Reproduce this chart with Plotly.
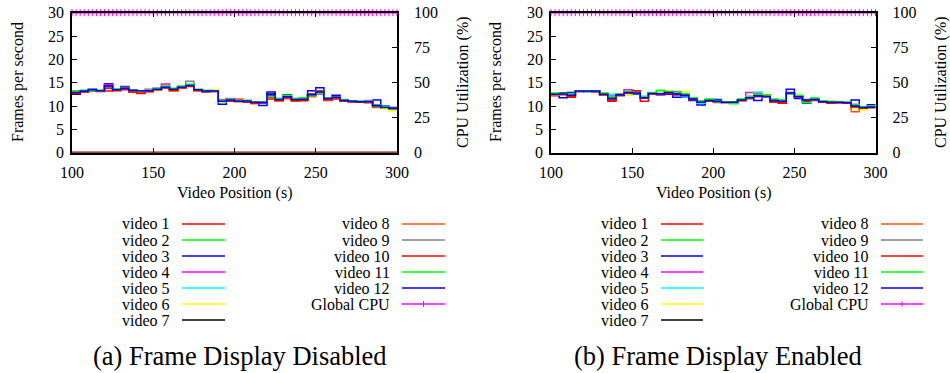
import plotly.graph_objects as go

# ---------------- data ----------------
X = [100, 105, 110, 115, 120, 125, 130, 135, 140, 145, 150, 155, 160, 165, 170, 175, 180, 185, 190, 195,
     200, 205, 210, 215, 220, 225, 230, 235, 240, 245, 250, 255, 260, 265, 270, 275, 280, 285, 290, 295, 300]

NAMES = ["video 1", "video 2", "video 3", "video 4", "video 5", "video 6", "video 7",
         "video 8", "video 9", "video 10", "video 11", "video 12"]

# (a) Frame Display Disabled - frames per second
A_V1 = [12.6,13.0,13.2,13.1,13.2,13.4,13.5,13.0,12.9,13.1,13.5,13.8,13.3,13.9,14.2,13.3,13.1,13.2,11.2,11.0,11.2,10.8,10.6,10.9,11.5,11.2,11.6,11.0,11.2,12.5,12.6,11.2,11.5,11.0,10.9,10.8,10.7,9.8,9.7,9.3,9.3]
A_V2 = [13.1,13.3,13.3,13.2,13.9,13.6,13.7,13.4,13.1,13.4,13.7,14.2,13.5,14.1,14.6,13.5,13.3,13.4,10.9,11.5,10.9,11.2,10.9,10.7,12.0,11.4,12.2,11.5,11.7,12.5,13.0,11.5,11.7,11.2,11.1,10.9,10.8,9.9,9.9,9.2,9.2]
A_V3 = [12.8,13.3,13.6,13.4,14.8,13.5,14.2,13.4,13.3,13.2,13.5,13.9,13.6,14.2,14.3,13.5,13.1,13.2,10.4,11.5,11.2,10.9,10.8,10.1,13.0,11.5,12.4,11.4,11.4,13.3,13.9,11.5,12.3,11.3,11.0,10.9,11.0,11.3,10.0,9.7,9.7]
A_V4 = [13.0,13.2,13.3,13.3,14.6,13.4,13.9,13.2,13.3,13.6,13.8,14.7,13.5,14.0,14.4,13.4,13.2,13.1,11.1,11.2,10.9,11.0,10.7,10.7,12.2,11.3,11.9,11.4,11.3,12.2,12.6,11.7,11.8,11.1,10.9,10.9,10.9,10.1,9.6,9.5,9.5]
A_V5 = [13.2,13.2,13.4,13.3,14.1,13.5,13.7,13.3,13.2,13.3,13.6,14.1,13.6,14.1,14.6,13.4,13.2,13.2,11.0,11.3,11.0,11.1,10.8,10.8,12.4,11.5,12.0,11.3,11.4,12.3,12.7,11.6,11.8,11.2,11.0,10.9,10.8,10.0,9.6,9.3,9.3]
A_V6 = [13.1,13.3,13.3,13.4,14.0,13.5,13.6,13.3,13.2,13.4,13.7,14.0,13.7,14.2,14.5,13.6,13.3,13.5,10.9,11.1,10.9,11.1,10.8,10.8,12.1,11.2,11.9,11.2,11.3,12.2,12.9,11.6,11.7,11.1,10.9,10.8,10.8,9.7,9.4,9.0,9.0]
A_V7 = [12.5,13.1,13.3,13.2,14.3,13.6,13.8,13.3,13.3,13.3,13.5,13.9,13.5,13.9,14.3,13.4,13.1,13.3,11.0,11.2,11.0,11.1,10.8,10.9,12.6,11.4,12.1,11.4,11.5,12.4,13.3,11.6,11.9,11.3,11.0,10.9,10.9,10.2,9.8,9.6,9.6]
A_V8 = [12.9,13.1,13.2,13.2,13.9,13.4,13.6,13.1,12.8,13.0,13.4,13.8,13.2,13.8,14.3,13.3,13.1,13.2,11.4,11.3,11.5,10.9,10.5,10.7,12.0,11.1,11.6,11.1,11.2,12.0,13.2,11.3,11.6,11.0,10.9,10.8,10.8,9.7,9.8,9.3,9.3]
A_V9 = [13.0,13.3,13.4,13.3,14.2,13.5,14.0,13.5,13.3,13.4,13.6,14.2,13.7,14.1,15.3,13.5,13.3,13.3,11.3,11.6,11.1,11.2,10.9,10.8,12.3,11.6,12.2,11.6,11.8,12.4,12.9,11.8,12.0,11.4,11.1,11.0,11.2,9.8,9.9,9.6,9.6]
A_V10 = [12.7,13.1,13.2,13.3,13.8,13.3,13.6,13.0,12.7,13.2,13.6,13.9,13.4,13.9,14.3,13.4,13.1,13.1,11.1,11.0,11.1,10.9,10.6,10.8,12.0,11.2,11.8,11.2,11.2,12.6,12.9,11.4,11.7,11.1,10.9,10.8,10.8,10.0,9.8,9.4,9.4]
A_V11 = [13.3,13.4,13.3,13.3,14.2,13.7,13.8,13.5,13.2,13.4,13.8,14.3,13.8,14.3,14.6,13.6,13.4,13.3,11.2,11.4,11.1,11.2,10.9,10.8,12.1,11.6,12.3,11.6,11.8,12.2,12.8,11.7,11.9,11.3,11.1,11.0,10.9,10.3,9.9,9.4,9.4]
A_V12 = [12.9,13.2,13.5,13.3,14.3,13.5,13.8,13.4,13.3,13.3,13.6,14.0,13.6,14.0,14.4,13.5,13.2,13.2,11.0,11.3,11.0,11.1,10.8,10.7,12.4,11.4,12.0,11.4,11.4,12.4,13.0,11.6,11.9,11.2,11.0,10.9,10.9,10.1,9.7,9.5,9.5]

# (b) Frame Display Enabled - frames per second
B_V1 = [12.2,12.4,11.9,13.1,13.2,13.1,12.3,11.0,12.2,12.7,13.1,11.0,12.6,12.5,12.8,12.4,12.5,11.3,11.0,11.1,10.9,10.8,10.7,11.2,11.6,12.8,12.2,10.8,10.6,12.6,12.2,11.0,11.2,10.8,10.6,10.7,10.6,9.6,9.4,9.7,9.7]
B_V2 = [12.7,12.8,12.5,13.3,13.3,13.3,12.7,11.8,12.5,13.0,12.9,12.0,12.8,13.3,13.1,12.8,12.5,11.7,11.0,11.4,11.1,10.9,10.6,11.4,12.0,12.4,12.3,11.4,11.2,12.9,12.2,10.8,11.6,11.0,10.9,10.8,10.8,10.1,9.8,9.9,9.9]
B_V3 = [12.6,11.8,12.9,13.2,13.2,13.2,12.3,12.1,12.2,12.9,12.6,11.8,12.6,12.4,12.5,11.9,12.0,11.2,10.2,11.3,11.4,10.8,10.8,11.2,11.6,11.2,12.3,11.3,11.1,13.6,11.6,10.6,11.5,11.0,10.8,10.8,10.7,11.3,9.8,10.3,10.3]
B_V4 = [12.4,12.6,12.3,13.1,13.2,13.1,12.5,11.4,12.6,13.5,12.9,11.9,12.8,12.4,13.0,12.5,12.3,11.5,10.9,11.2,11.0,10.8,10.8,11.3,12.9,12.0,11.9,11.1,11.0,12.5,12.0,11.3,11.4,10.8,10.6,10.8,10.7,9.9,9.6,9.8,9.8]
B_V5 = [12.5,12.6,12.4,13.2,13.1,13.2,12.6,12.5,12.3,12.8,12.7,11.8,12.7,12.6,12.8,12.6,12.2,11.6,10.6,11.1,10.7,10.8,10.9,11.3,11.8,13.0,12.0,11.2,11.0,12.8,12.1,11.2,11.3,10.9,10.8,10.8,10.7,9.9,9.7,9.9,9.9]
B_V6 = [12.3,12.7,12.2,13.3,13.3,13.2,12.4,11.6,12.2,12.3,12.8,11.9,12.6,12.8,13.2,12.7,13.1,11.6,11.0,11.0,10.9,10.8,10.8,11.2,11.7,12.1,12.0,11.2,11.1,12.7,12.0,11.2,11.3,10.9,10.8,10.8,10.7,9.5,9.2,9.6,9.6]
B_V7 = [12.5,12.8,12.3,13.2,13.1,13.1,12.5,11.5,12.4,12.8,12.7,11.9,12.7,12.6,12.9,12.6,12.3,11.5,10.9,11.2,11.0,10.8,10.8,11.3,11.9,12.1,12.1,11.2,11.0,12.8,12.0,11.3,11.4,10.9,10.8,10.8,10.7,10.0,9.7,9.8,9.8]
B_V8 = [12.4,12.5,12.2,13.1,13.2,13.2,12.4,11.3,12.3,12.8,12.9,11.7,12.7,12.5,12.8,12.9,12.4,11.4,11.1,11.0,10.9,10.8,10.7,11.2,11.7,12.3,12.1,11.0,10.9,12.7,11.9,11.1,11.4,10.8,10.7,10.8,10.6,8.8,9.5,9.7,9.7]
B_V9 = [12.6,12.7,12.4,13.3,13.3,13.3,12.6,11.7,12.5,12.9,12.8,11.9,12.8,12.7,13.0,13.1,12.4,11.6,10.9,11.3,11.1,10.9,10.9,11.4,11.9,12.2,12.1,11.3,11.1,12.9,12.1,11.4,11.5,11.0,10.9,10.9,10.8,10.4,9.8,9.9,9.9]
B_V10 = [12.4,12.5,12.1,13.2,13.2,13.1,12.4,11.2,12.3,12.8,13.3,11.7,12.6,12.5,12.7,12.4,12.4,11.4,10.9,11.1,10.9,10.7,10.7,11.2,11.8,12.5,12.2,10.9,10.7,12.8,12.1,11.0,11.3,10.8,10.6,10.7,10.6,9.8,9.5,9.7,9.7]
B_V11 = [12.8,12.7,12.6,13.3,13.3,13.3,12.8,12.0,12.6,13.1,12.9,12.1,12.9,13.4,13.1,12.9,12.6,11.8,11.1,11.5,11.2,10.9,10.5,11.5,12.1,12.5,12.4,11.5,11.3,12.6,12.3,10.7,11.7,11.1,11.0,10.9,10.8,10.2,9.9,10.0,10.0]
B_V12 = [12.5,12.6,12.3,13.2,13.2,13.2,12.5,11.6,12.4,12.9,12.8,11.8,12.7,12.6,12.9,12.6,12.3,11.5,10.8,11.2,11.0,10.8,10.8,11.3,11.8,12.2,12.0,11.2,11.0,12.8,12.0,11.3,11.4,10.9,10.8,10.8,10.7,10.0,9.7,9.8,9.8]

# Global CPU utilization (%), sampled every 2.5 s
CPU_X = [100.0,102.5,105.0,107.5,110.0,112.5,115.0,117.5,120.0,122.5,125.0,127.5,130.0,132.5,135.0,137.5,
         140.0,142.5,145.0,147.5,150.0,152.5,155.0,157.5,160.0,162.5,165.0,167.5,170.0,172.5,175.0,177.5,
         180.0,182.5,185.0,187.5,190.0,192.5,195.0,197.5,200.0,202.5,205.0,207.5,210.0,212.5,215.0,217.5,
         220.0,222.5,225.0,227.5,230.0,232.5,235.0,237.5,240.0,242.5,245.0,247.5,250.0,252.5,255.0,257.5,
         260.0,262.5,265.0,267.5,270.0,272.5,275.0,277.5,280.0,282.5,285.0,287.5,290.0,292.5,295.0,297.5,300.0]
CPU_A = [100,100,100,100,100,100,100,100,100,100,100,100,100,100,100,100,100,100,100,100,100,100,100,100,100,100,100,
         100,100,100,100,100,100,100,100,100,100,100,100,100,100,100,100,100,100,100,100,100,100,100,100,100,100,100,
         100,100,100,100,100,100,100,100,100,100,100,100,100,100,100,100,100,100,100,100,100,100,100,100,100,100,100]
CPU_B = [100,100,100,100,100,100,100,100,100,100,100,100,100,100,100,100,100,100,100,100,100,100,100,100,100,100,100,
         100,100,100,100,100,100,100,100,100,100,100,100,100,100,100,100,100,100,100,100,100,100,100,100,100,100,100,
         100,100,100,100,100,100,100,100,100,100,100,100,100,100,100,100,100,100,100,100,100,100,100,100,100,100,100]

# baseline trace seen at 0 fps in panel (a)
ZERO_X = [100, 300]
ZERO_A = [0, 0]

Y_TICKS = [0, 5, 10, 15, 20, 25, 30]
Y2_TICKS = [0, 25, 50, 75, 100]
X_TICKS = [100, 150, 200, 250, 300]

CAPTIONS = ["(a) Frame Display Disabled", "(b) Frame Display Enabled"]

# ---------------- style ----------------
COLORS = ["#ff0000", "#00ff00", "#0000ff", "#ff00ff", "#00ffff", "#ffff00", "#000000",
          "#ff5010", "#808080", "#ff0000", "#00ff00", "#0000ff"]
CPU_COLOR = "#ff00ff"
FONT = "Liberation Serif"
W, H = 950, 373


def px(x):
    return x / W


def py(y):
    return 1 - y / H


A_SERIES = [A_V1, A_V2, A_V3, A_V4, A_V5, A_V6, A_V7, A_V8, A_V9, A_V10, A_V11, A_V12]
B_SERIES = [B_V1, B_V2, B_V3, B_V4, B_V5, B_V6, B_V7, B_V8, B_V9, B_V10, B_V11, B_V12]

fig = go.Figure()

panels = [
    dict(series=A_SERIES, cpu=CPU_A, xa="x", ya="y", ya2="y2", zero=True),
    dict(series=B_SERIES, cpu=CPU_B, xa="x2", ya="y3", ya2="y4", zero=False),
]

for p in panels:
    if p["zero"]:
        fig.add_trace(go.Scatter(x=ZERO_X, y=ZERO_A, mode="lines", xaxis=p["xa"], yaxis=p["ya"],
                                 line=dict(color="#6a1208", width=2.2), showlegend=False, hoverinfo="skip"))
    for name, vals, col in zip(NAMES, p["series"], COLORS):
        fig.add_trace(go.Scatter(x=X, y=vals, name=name, mode="lines", line_shape="hv",
                                 xaxis=p["xa"], yaxis=p["ya"],
                                 line=dict(color=col, width=1.5), showlegend=False))
    fig.add_trace(go.Scatter(x=CPU_X, y=p["cpu"], name="Global CPU", mode="lines+markers",
                             xaxis=p["xa"], yaxis=p["ya2"], cliponaxis=False,
                             line=dict(color=CPU_COLOR, width=1.5),
                             marker=dict(symbol="line-ns", size=5, color=CPU_COLOR,
                                         line=dict(color=CPU_COLOR, width=1)),
                             showlegend=False))

YDOM = [py(152.7), py(12.7)]
XDOM_A = [px(72), px(397)]
XDOM_B = [px(551), px(875.5)]

tickfont = dict(family=FONT, size=16, color="black")
common_x = dict(range=[100, 300], tickvals=X_TICKS, ticks="inside", ticklen=5, tickwidth=1,
                tickcolor="black", showline=True, linecolor="black", linewidth=1.5, mirror="ticks",
                showgrid=False, zeroline=False, tickfont=tickfont, ticklabelstandoff=4, automargin=False)
common_y = dict(range=[0, 30], tickvals=Y_TICKS, ticks="inside", ticklen=5, tickwidth=1,
                tickcolor="black", showline=True, linecolor="black", linewidth=1.5,
                showgrid=False, zeroline=False, tickfont=tickfont, ticklabelstandoff=3, automargin=False)
common_y2 = dict(range=[0, 100], tickvals=Y2_TICKS, ticks="inside", ticklen=5, tickwidth=1,
                 tickcolor="black", showline=True, linecolor="black", linewidth=1.5, side="right",
                 showgrid=False, zeroline=False, tickfont=tickfont, ticklabelstandoff=12, automargin=False)

fig.update_layout(
    width=W, height=H, margin=dict(l=0, r=0, t=0, b=0, autoexpand=False),
    paper_bgcolor="white", plot_bgcolor="white", showlegend=False,
    xaxis=dict(domain=XDOM_A, anchor="y", **common_x),
    yaxis=dict(domain=YDOM, anchor="x", **common_y),
    yaxis2=dict(overlaying="y", anchor="x", **common_y2),
    xaxis2=dict(domain=XDOM_B, anchor="y3", **common_x),
    yaxis3=dict(domain=YDOM, anchor="x2", **common_y),
    yaxis4=dict(overlaying="y3", anchor="x2", **common_y2),
)

annotations = []
shapes = []
lab = dict(family=FONT, size=16, color="black")

panel_geo = [
    dict(l=72, r=397, ytitle_x=18, y2title_x=463, c1_text=172, c1_l=182, c1_r=225,
         c2_text=392, c2_l=402, c2_r=445, cap_x=240),
    dict(l=551, r=875.5, ytitle_x=496, y2title_x=941, c1_text=651, c1_l=661, c1_r=703,
         c2_text=871, c2_l=881, c2_r=923, cap_x=718),
]
for g, cap in zip(panel_geo, CAPTIONS):
    cx = (g["l"] + g["r"]) / 2
    annotations.append(dict(text="Video Position (s)", x=px(cx), y=py(193), xref="paper", yref="paper",
                            showarrow=False, font=lab, xanchor="center", yanchor="middle"))
    annotations.append(dict(text="Frames per second", x=px(g["ytitle_x"]), y=py(82), xref="paper",
                            yref="paper", showarrow=False, font=lab, textangle=-90,
                            xanchor="center", yanchor="middle"))
    annotations.append(dict(text="CPU Utilization (%)", x=px(g["y2title_x"]), y=py(82), xref="paper",
                            yref="paper", showarrow=False, font=lab, textangle=-90,
                            xanchor="center", yanchor="middle"))
    # legend
    rows = [224 + 16 * i for i in range(7)]
    for i in range(7):
        annotations.append(dict(text=NAMES[i], x=px(g["c1_text"]), y=py(rows[i]), xref="paper",
                                yref="paper", showarrow=False, font=lab, xanchor="right", yanchor="middle"))
        shapes.append(dict(type="line", xref="paper", yref="paper", x0=px(g["c1_l"]), x1=px(g["c1_r"]),
                           y0=py(rows[i]), y1=py(rows[i]), line=dict(color=COLORS[i], width=1.5)))
    col2 = NAMES[7:] + ["Global CPU"]
    col2c = COLORS[7:] + [CPU_COLOR]
    for i in range(6):
        annotations.append(dict(text=col2[i], x=px(g["c2_text"]), y=py(rows[i]), xref="paper",
                                yref="paper", showarrow=False, font=lab, xanchor="right", yanchor="middle"))
        shapes.append(dict(type="line", xref="paper", yref="paper", x0=px(g["c2_l"]), x1=px(g["c2_r"]),
                           y0=py(rows[i]), y1=py(rows[i]), line=dict(color=col2c[i], width=1.5)))
    mid = (g["c2_l"] + g["c2_r"]) / 2
    shapes.append(dict(type="line", xref="paper", yref="paper", x0=px(mid), x1=px(mid),
                       y0=py(rows[5] - 3), y1=py(rows[5] + 3), line=dict(color=CPU_COLOR, width=1)))
    annotations.append(dict(text=cap, x=px(g["cap_x"]), y=py(356), xref="paper", yref="paper",
                            showarrow=False, font=dict(family=FONT, size=26.5, color="black"),
                            xanchor="center", yanchor="middle"))

fig.update_layout(annotations=annotations, shapes=shapes)
fig.write_html("out.html")
